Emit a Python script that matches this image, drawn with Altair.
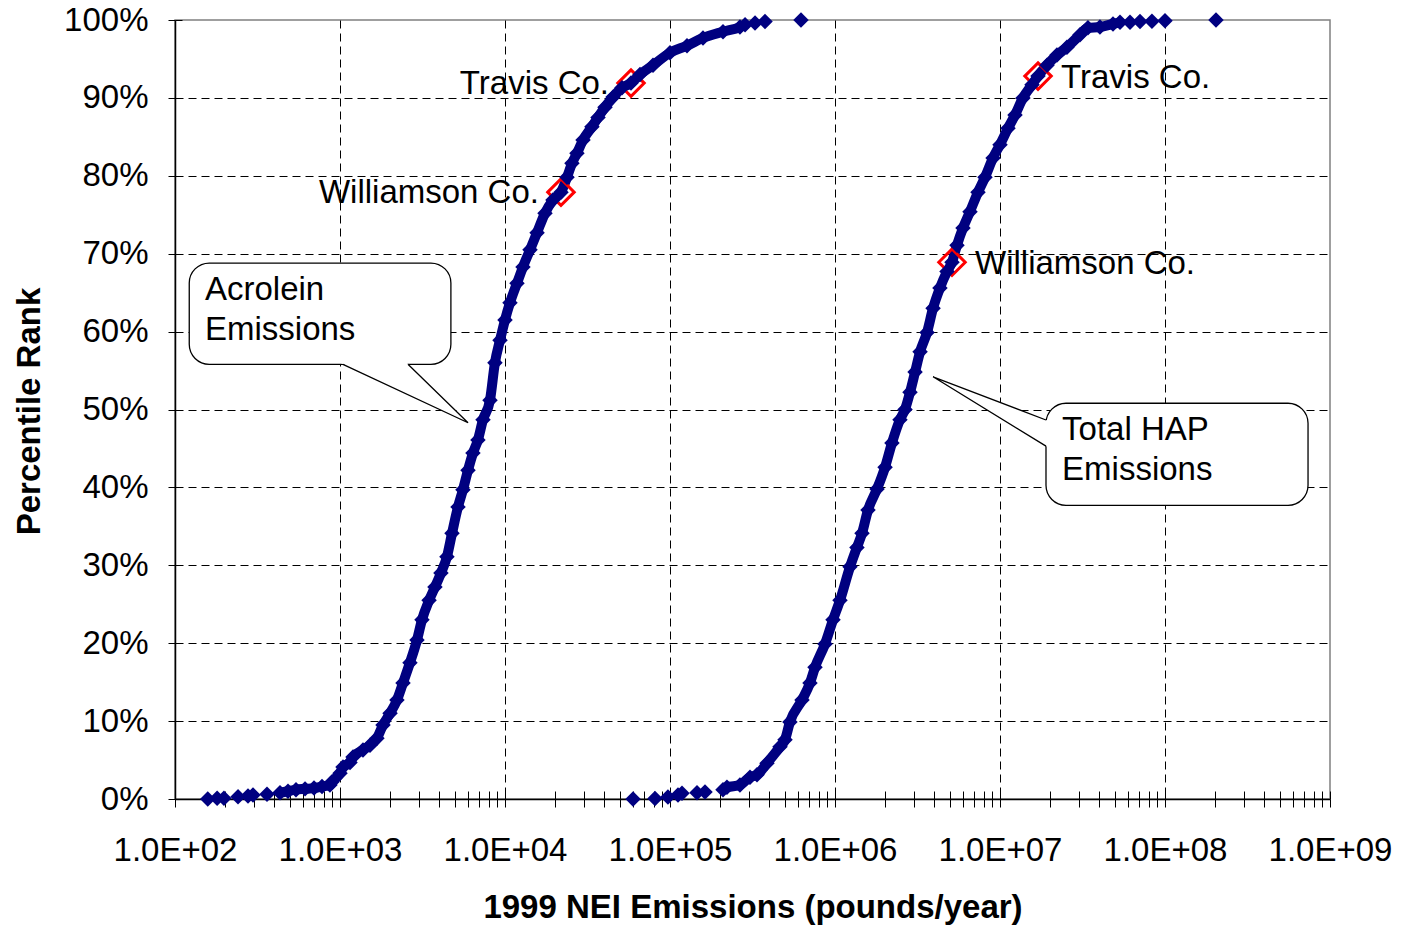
import altair as alt
import pandas as pd

NAVY = "#000080"
FONT = "Liberation Sans"

# ---- Acrolein: county emissions (lb/yr) and percentile rank (%) ----
acrolein_lbs = [158, 180, 198, 241, 277, 297, 361,
                433, 484, 541, 614, 696, 778, 869, 895, 1000, 1043, 1150, 1199,
                1378, 1520, 1675, 1822, 2011, 2214, 2409, 2655, 2928, 3139, 3466,
                3763, 4090, 4448, 4773, 5190, 5562, 5966, 6394, 6855, 7356, 8111,
                8690, 9330, 10000, 10720, 11820, 12850, 14180, 15640, 17470, 19530,
                21840, 23750, 25460, 27300, 29700, 33650, 36620, 40370, 45150, 51170,
                58030, 65780, 78900, 100000, 126800, 158500, 209500, 265400, 285000,
                327600, 376500, 622000]
acrolein_pct = [0.0, 0.1, 0.1, 0.3, 0.4, 0.5, 0.6,
                0.8, 1.0, 1.2, 1.3, 1.4, 1.6, 1.8, 2.2, 3.3, 4.1, 4.7, 5.4,
                6.3, 6.9, 7.8, 9.5, 11.0, 12.7, 14.9, 17.5, 20.4, 23.0, 25.5,
                27.2, 29.0, 31.1, 34.1, 37.5, 39.7, 42.2, 44.4, 46.1, 48.7, 51.2,
                56.0, 58.9, 61.5, 63.7, 66.2, 68.3, 70.5, 72.7, 75.2, 76.9,
                77.9, 79.8, 81.6, 82.9, 84.6, 86.3, 87.5, 88.8, 90.1, 91.3,
                91.9, 93.0, 94.2, 95.8, 96.7, 97.7, 98.5, 99.1, 99.4,
                99.6, 99.8, 100.0]
acrolein_sparse = (7, 3)   # isolated markers at the low / high end

# ---- Total HAP: county emissions (lb/yr) and percentile rank (%) ----
hap_lbs = [59700, 81100, 97200, 111800, 118200, 145800, 163000,
           209500, 221300, 265400, 305300, 336800, 387000, 464200, 497700, 533400, 630900,
           705300, 756500, 869800, 972700, 1072000, 1233000, 1358000, 1458000, 1585000,
           1798000, 2011000, 2214000, 2476000, 2656000, 2849000, 3056000, 3277000, 3613000,
           3929000, 4326000, 4773000, 5117000, 5486000, 5966000, 6579000, 7356000, 8111000,
           9074000, 10000000, 11180000, 12330000, 13780000, 15630000, 17000000, 19270000,
           22140000, 25460000, 30530000, 34130000, 40330000, 48390000, 53370000,
           61380000, 70530000, 83360000, 100000000, 203700000]
hap_pct = [0.0, 0.05, 0.25, 0.5, 0.75, 0.8, 0.9,
           1.2, 1.5, 1.8, 2.8, 3.1, 4.6, 6.7, 7.6, 9.9, 12.7,
           14.9, 16.9, 19.9, 23.0, 25.5, 29.8, 32.3, 34.1, 37.1,
           39.8, 42.6, 45.7, 48.7, 50.0, 52.2, 54.8, 57.4, 59.9,
           63.0, 65.6, 67.7, 68.9, 71.1, 73.3, 75.4, 77.9, 79.8,
           82.3, 84.0, 86.1, 87.8, 90.0, 91.7, 92.8, 94.2,
           95.5, 96.5, 98.1, 99.0, 99.1, 99.5, 99.7,
           99.7, 99.8, 99.85, 99.9, 100.0]
hap_sparse = (7, 5)

# ---- Highlighted counties ----
counties = ["Travis Co.", "Williamson Co."]
county_acrolein_lbs = [58030, 21840]
county_acrolein_pct = [91.9, 77.9]
county_hap_lbs = [17000000, 5117000]
county_hap_pct = [92.8, 68.9]

# ---- Callout boxes (data units) ----
callout_boxes = pd.DataFrame({
    "name": ["acrolein", "hap"],
    "x": [122, 1.90e7], "x2": [4700, 7.36e8],
    "y": [55.8, 37.7], "y2": [68.8, 50.8],
})
callout_text = pd.DataFrame({
    "x": [152, 152, 2.377e7, 2.377e7],
    "y": [64.06, 58.92, 46.08, 40.95],
    "text": ["Acrolein", "Emissions", "Total HAP", "Emissions"],
})
# pointer of each callout: base corner, tip, base corner
pointer_edges = pd.DataFrame({
    "name": ["acrolein"] * 3 + ["hap"] * 3,
    "idx": [0, 1, 2, 0, 1, 2],
    "x": [1042, 5970, 2582, 1.90e7, 3.93e6, 1.90e7],
    "y": [55.8, 48.3, 55.8, 48.65, 54.2, 45.3],
})
# white fill of the pointers (slightly overlapping the box edge)
pointer_fill_h = pd.DataFrame({"y": [56.05, 48.3], "x": [990, 5970], "x2": [2520, 5970]})
pointer_fill_v = pd.DataFrame({"x": [1.955e7, 3.93e6], "y": [48.55, 54.2], "y2": [45.16, 54.2]})


def series_frame(name, lbs, pct, sparse):
    lo, hi = sparse
    n = len(lbs)
    return pd.DataFrame({
        "series": name,
        "idx": range(n),
        "lbs": lbs,
        "pct": pct,
        "dense": [lo <= i < n - hi for i in range(n)],
    })


points = pd.concat([
    series_frame("Acrolein", acrolein_lbs, acrolein_pct, acrolein_sparse),
    series_frame("Total HAP", hap_lbs, hap_pct, hap_sparse),
], ignore_index=True)

highlights = pd.DataFrame({
    "county": counties * 2,
    "series": ["Acrolein"] * 2 + ["Total HAP"] * 2,
    "lbs": county_acrolein_lbs + county_hap_lbs,
    "pct": county_acrolein_pct + county_hap_pct,
})

# ---- Scales and axes ----
x_scale = alt.Scale(type="log", domain=[100, 1000000000], nice=False)
y_scale = alt.Scale(domain=[0, 100], nice=False, zero=False)

x_ticks = []
for k in range(2, 9):
    for m in range(1, 10):
        x_ticks.append(m * 10 ** k)
x_ticks.append(10 ** 9)
y_ticks = list(range(0, 101, 10))

is_decade = "abs(log(datum.value)/LN10 - round(log(datum.value)/LN10)) < 0.001"
decade_label = ("round(log(datum.value)/LN10) < 10 ? '1.0E+0' + round(log(datum.value)/LN10)"
                " : '1.0E+' + round(log(datum.value)/LN10)")

x_axis_main = alt.Axis(
    orient="bottom", values=x_ticks,
    labelExpr=f"{is_decade} ? ({decade_label}) : ''",
    labelOverlap=False, labelFlush=False, labelFont=FONT, labelFontSize=33,
    labelColor="#000", labelBaseline="alphabetic", labelPadding=53, labelAlign="center",
    grid=True, gridColor="#000", gridWidth=1, gridDash=[8, 5],
    gridOpacity={"condition": {"test": f"{is_decade} && datum.value > 150 && datum.value < 500000000",
                               "value": 1}, "value": 0},
    tickSize=8, tickColor="#000", tickWidth=1,
    domainColor="#000", domainWidth=1.5,
    title="1999 NEI Emissions (pounds/year)", titleFont=FONT, titleFontSize=33,
    titleFontWeight="bold", titleColor="#000", titleX=577.5, titleY=118,
    titleBaseline="alphabetic", titleAlign="center",
)
y_axis_main = alt.Axis(
    orient="left", values=y_ticks, labelExpr="datum.value + '%'",
    labelFont=FONT, labelFontSize=33, labelColor="#000", labelPadding=20,
    labelOverlap=False, labelFlush=False,
    grid=True, gridColor="#000", gridWidth=1, gridDash=[8, 5],
    gridOpacity={"condition": {"test": "datum.value > 0 && datum.value < 100", "value": 1},
                 "value": 0},
    tickSize=7, tickColor="#000", tickWidth=1,
    domainColor="#000", domainWidth=1.5,
    title="Percentile Rank", titleFont=FONT, titleFontSize=33, titleFontWeight="bold",
    titleColor="#000", titleAngle=270, titleX=-136, titleY=391,
    titleBaseline="alphabetic", titleAlign="center",
)
# inner halves of the cross tick marks
x_axis_inner = alt.Axis(orient="bottom", values=x_ticks, offset=-8, tickSize=8,
                        tickColor="#000", tickWidth=1, domain=False, labels=False,
                        grid=False, title=None)
y_axis_inner = alt.Axis(orient="left", values=y_ticks, offset=-7, tickSize=7,
                        tickColor="#000", tickWidth=1, domain=False, labels=False,
                        grid=False, title=None)


def X(field, axis=None):
    return alt.X(field, type="quantitative", scale=x_scale, axis=axis)


def Y(field, axis=None):
    return alt.Y(field, type="quantitative", scale=y_scale, axis=axis)


boxes = alt.Chart(callout_boxes).mark_rect(
    cornerRadius=20, fill="white", stroke="black", strokeWidth=1.3
).encode(x=X("x", x_axis_main), x2="x2:Q", y=Y("y", y_axis_main), y2="y2:Q")

fill_h = alt.Chart(pointer_fill_h).mark_area(
    orient="horizontal", color="white", opacity=1
).encode(y=Y("y"), x=X("x"), x2="x2:Q")

fill_v = alt.Chart(pointer_fill_v).mark_area(
    orient="vertical", color="white", opacity=1
).encode(x=X("x"), y=Y("y"), y2="y2:Q")

edges = alt.Chart(pointer_edges).mark_line(color="black", strokeWidth=1.3).encode(
    x=X("x"), y=Y("y"), detail="name:N", order="idx:Q"
)

box_text = alt.Chart(callout_text).mark_text(
    font=FONT, fontSize=33, color="black", align="left", baseline="alphabetic"
).encode(x=X("x"), y=Y("y"), text="text:N")

# the densely packed county markers read as a continuous band
band = alt.Chart(points).transform_filter("datum.dense").mark_line(
    color=NAVY, strokeWidth=10, strokeCap="round", strokeJoin="round",
    interpolate="monotone"
).encode(x=X("lbs"), y=Y("pct"), detail="series:N", order="idx:Q")

red = alt.Chart(highlights).mark_point(
    shape="diamond", filled=False, size=700, strokeWidth=3, color="#ff0000", opacity=1
).encode(x=X("lbs", x_axis_inner), y=Y("pct", y_axis_inner))

dots = alt.Chart(points).mark_point(
    shape="diamond", filled=True, size=240, color=NAVY, opacity=1, strokeWidth=0
).encode(x=X("lbs"), y=Y("pct"))

labels_acrolein = alt.Chart(highlights).transform_filter(
    "datum.series == 'Acrolein'"
).mark_text(font=FONT, fontSize=33, color="black", align="right",
            baseline="alphabetic", dx=-22, dy=11).encode(
    x=X("lbs"), y=Y("pct"), text="county:N")

labels_hap = alt.Chart(highlights).transform_filter(
    "datum.series == 'Total HAP'"
).mark_text(font=FONT, fontSize=33, color="black", align="left",
            baseline="alphabetic", dx=23, dy=12).encode(
    x=X("lbs"), y=Y("pct"), text="county:N")

chart = alt.layer(
    boxes, fill_h, fill_v, edges, box_text, band, red, dots, labels_acrolein, labels_hap
).resolve_axis(x="independent", y="independent").properties(
    width=1155, height=779,
    padding={"left": 175, "top": 20, "right": 71, "bottom": 126},
    autosize=alt.AutoSizeParams(type="none"),
    background="white",
).configure_view(stroke="#808080", strokeWidth=1.5)

chart.save("out.html", embed_options={"renderer": "svg", "actions": False})
